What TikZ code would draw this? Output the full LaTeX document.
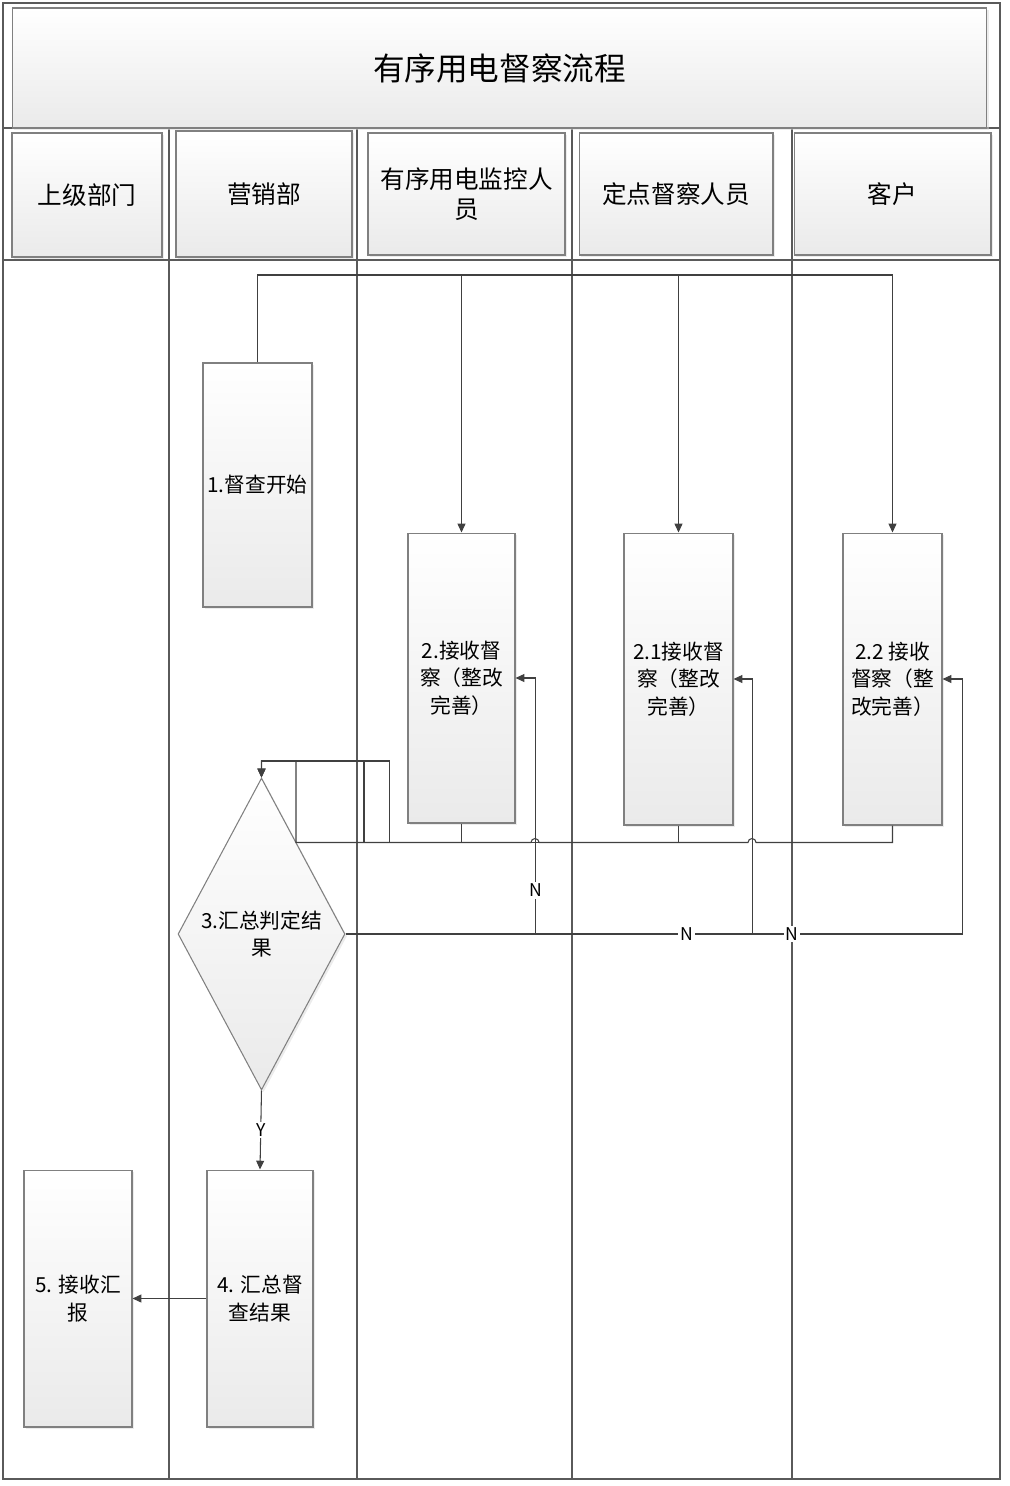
\documentclass[tikz,border=0pt]{standalone}
\usepackage{fontspec}
\setmainfont{Noto Sans CJK SC}
\usetikzlibrary{arrows.meta,shapes.geometric,shadows}
\definecolor{linegray}{HTML}{404040}
\definecolor{framegray}{HTML}{5A5A5A}
\definecolor{boxedge}{HTML}{808080}
\definecolor{boxfill}{HTML}{EAEAEA}

\begin{document}
\begin{tikzpicture}[
    x=0.02cm, y=-0.02cm,
    >={Triangle[length=5pt,width=4.5pt]},
    every node/.style={font=\fontsize{11.8}{15.6}\selectfont},
    lane/.style={draw=framegray, line width=0.6pt},
    proc/.style={
        draw=boxedge, top color=white, bottom color=boxfill,
        line width=0.6pt, align=center, inner sep=1pt,
        drop shadow={shadow xshift=1.2pt, shadow yshift=-1.2pt, fill=black!15}
    },
    head/.style={proc, font=\fontsize{14}{17}\selectfont},
    decision/.style={proc, diamond, inner sep=0pt},
    line/.style={draw=linegray, line width=0.6pt},
    arr/.style={line, ->},
    yn/.style={fill=white, inner sep=1pt, font=\fontsize{10}{12}\selectfont},
]
\useasboundingbox (0,0) rectangle (1009,1486);

% === Frame and swimlanes ===
\draw[lane] (3,3) rectangle (1000,1479);
\draw[lane] (3,128) -- (1000,128);
\draw[lane] (3,260) -- (1000,260);
\foreach \lx in {169,357,572,792}
    \draw[lane] (\lx,128) -- (\lx,1479);

% Title
\node[proc, minimum width=19.5cm, minimum height=2.4cm,
    font=\fontsize{18}{22}\selectfont] (title) at (499.5,68) {有序用电督察流程};

% Lane headers
\node[head, minimum width=3.0cm, minimum height=2.48cm] (hsup) at (87,195) {上级部门};
\node[head, minimum width=3.52cm, minimum height=2.52cm] (hmkt) at (264,194) {营销部};
\node[head, minimum width=3.94cm, minimum height=2.44cm] (hmon) at (466.5,194) {有序用电监控人\\员};
\node[head, minimum width=3.88cm, minimum height=2.44cm] (hfix) at (676,194) {定点督察人员};
\node[head, minimum width=3.94cm, minimum height=2.44cm] (hcus) at (892.5,194) {客户};

% === Steps ===
\node[proc, minimum width=2.18cm, minimum height=4.88cm] (start) at (257.5,485) {1.督查开始};
\node[proc, minimum width=2.14cm, minimum height=5.8cm] (recv) at (461.5,678) {2.接收督\\察（整改\\完善）};
\node[proc, minimum width=2.18cm, minimum height=5.84cm] (recvfix) at (678.5,679) {2.1接收督\\察（整改\\完善）};
\node[proc, minimum width=1.98cm, minimum height=5.84cm] (recvcus) at (892.5,679) {2.2 接收\\督察（整\\改完善）};
\node[decision, minimum width=3.34cm, minimum height=6.24cm,
    label={[align=center, font=\fontsize{11.8}{15.6}\selectfont]center:{3.汇总判定结\\果}}] (judge) at (261.5,934) {};
\node[proc, minimum width=2.12cm, minimum height=5.14cm] (sumup) at (260,1298.5) {4. 汇总督\\查结果};
\node[proc, minimum width=2.16cm, minimum height=5.14cm] (report) at (78,1298.5) {5. 接收汇\\报};

% === Start -> receivers ===
\coordinate (bus) at (0,275);
\draw[line] (start.north) |- (bus -| recvcus.north);
\foreach \n in {recv,recvfix,recvcus}
    \draw[arr] (bus -| \n.north) -- (\n.north);

% === Receivers -> judge ===
\coordinate (merge) at (0,761);
\draw[arr] (recvcus.south) |- ++(-136.5,17)
    arc[start angle=0, end angle=180, radius=0.08cm] -- ++(-209,0)
    arc[start angle=0, end angle=180, radius=0.08cm] -- ++(-235,0)
    |- (merge -| judge.north) -- (judge.north);
\draw[arr] (recvfix.south) |- ++(-314.5,17) |- (merge -| judge.north) -- (judge.north);
\draw[arr] (recv.south) |- ++(-72,19) |- (merge -| judge.north) -- (judge.north);

% No paths back to rectification
\draw[arr] (judge.east) -- ++(617,0) node[yn, pos=0.723] {N} |- (recvcus.east);
\draw[arr] (judge.east) -- ++(407,0) node[yn, pos=0.838] {N} |- (recvfix.east);
\draw[arr] (judge.east) -- ++(190,0) -- ++(0,-256) node[yn, pos=0.17] {N} |- (recv.east);

% Yes path and report
\draw[arr] (judge.south) -- node[yn] {Y} (sumup.north);
\draw[arr] (sumup.west) -- (report.east);

\end{tikzpicture}
\end{document}
